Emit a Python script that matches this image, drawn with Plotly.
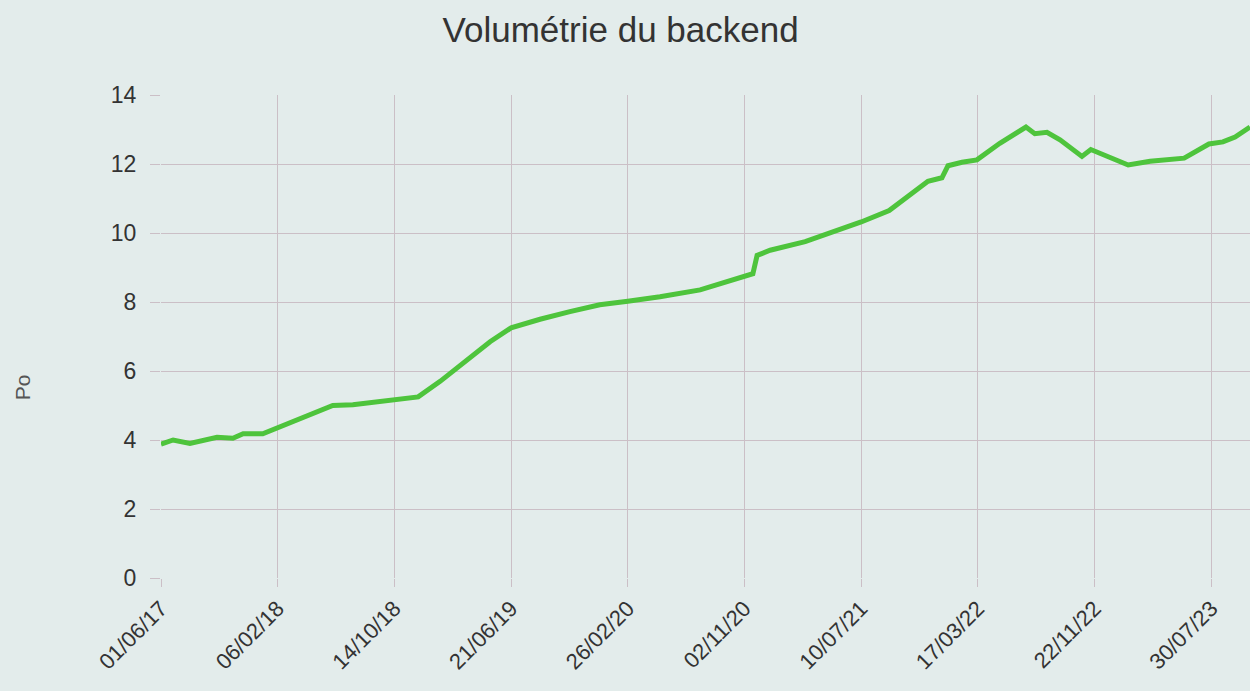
import plotly.graph_objects as go

# Data
dates = [
    "2017-06-01", "2017-06-27", "2017-08-02", "2017-09-03", "2017-09-29", "2017-11-02",
    "2017-11-24", "2018-01-05", "2018-02-04", "2018-03-26", "2018-05-03", "2018-06-04",
    "2018-07-17", "2018-09-02", "2018-10-11", "2018-11-16", "2018-12-04", "2019-01-20",
    "2019-03-14", "2019-05-07", "2019-06-21", "2019-08-22", "2019-10-25", "2019-12-28",
    "2020-02-26", "2020-05-05", "2020-07-30", "2020-10-02", "2020-11-03", "2020-11-20",
    "2020-11-29", "2020-12-27", "2021-03-12", "2021-05-26", "2021-07-10", "2021-09-08",
    "2021-10-23", "2021-11-30", "2021-12-30", "2022-01-12", "2022-02-11", "2022-03-15",
    "2022-05-03", "2022-06-05", "2022-06-28", "2022-07-17", "2022-08-12", "2022-09-09",
    "2022-10-26", "2022-11-14", "2022-12-25", "2023-02-02", "2023-03-21", "2023-06-02",
    "2023-07-25", "2023-08-24", "2023-09-19", "2023-10-21",
]
volume_po = [
    3.88, 4.00, 3.90, 3.98, 4.08, 4.05,
    4.18, 4.18, 4.35, 4.60, 4.85, 5.00,
    5.02, 5.10, 5.16, 5.20, 5.25, 5.70,
    6.25, 6.85, 7.25, 7.50, 7.72, 7.92,
    8.02, 8.15, 8.35, 8.60, 8.75, 8.82,
    9.35, 9.50, 9.75, 10.10, 10.32, 10.65,
    11.10, 11.50, 11.60, 11.95, 12.05, 12.12,
    12.60, 12.90, 13.07, 12.88, 12.92, 12.70,
    12.22, 12.42, 12.20, 11.97, 12.08, 12.17,
    12.58, 12.64, 12.78, 13.07,
]

tick_dates = ["2017-06-01", "2018-02-06", "2018-10-14", "2019-06-21", "2020-02-26",
              "2020-11-02", "2021-07-10", "2022-03-17", "2022-11-22", "2023-07-30"]
tick_labels = ["01/06/17", "06/02/18", "14/10/18", "21/06/19", "26/02/20",
               "02/11/20", "10/07/21", "17/03/22", "22/11/22", "30/07/23"]
y_ticks = [0, 2, 4, 6, 8, 10, 12, 14]

title_text = "Volumétrie du backend"
y_title = "Po"

bg = "#e3eceb"
grid = "#cbbfc6"
font_family = "Liberation Sans, Arial, sans-serif"

fig = go.Figure()
fig.add_trace(go.Scatter(
    x=dates, y=volume_po, mode="lines",
    line=dict(color="#4ec43c", width=5),
    showlegend=False,
))

fig.update_layout(
    width=1250, height=691,
    paper_bgcolor=bg, plot_bgcolor=bg,
    margin=dict(l=161, r=0, t=95, b=113),
    title=dict(text=title_text, x=0.4965, xanchor="center", y=0.957, yanchor="middle",
               font=dict(family=font_family, size=35, color="#333333")),
    font=dict(family=font_family, color="#333333"),
)

fig.update_xaxes(
    type="date",
    range=["2017-06-01", "2023-10-21"],
    tickmode="array", tickvals=tick_dates, ticktext=tick_labels,
    tickangle=-45,
    tickfont=dict(size=22, color="#333333"),
    showgrid=True, gridcolor=grid, gridwidth=1,
    ticks="outside", ticklen=8, tickcolor=grid,
    showline=False, zeroline=False,
)
fig.update_yaxes(
    range=[0, 14],
    tickmode="array", tickvals=y_ticks,
    tickfont=dict(size=23, color="#333333"),
    showgrid=True, gridcolor=grid, gridwidth=1,
    ticks="outside", ticklen=10, tickcolor=grid,
    ticklabelstandoff=9,
    showline=False, zeroline=False,
)

fig.add_annotation(
    text=y_title, xref="paper", yref="paper",
    x=-0.1277, y=0.395, xanchor="center", yanchor="middle",
    textangle=-90, showarrow=False,
    font=dict(family=font_family, size=21, color="#555555"),
)

fig.write_html(
    "out.html",
    config={"displayModeBar": False},
    post_script="document.body.style.margin='0';document.body.style.background='#e3eceb';document.body.style.overflow='hidden';",
)
